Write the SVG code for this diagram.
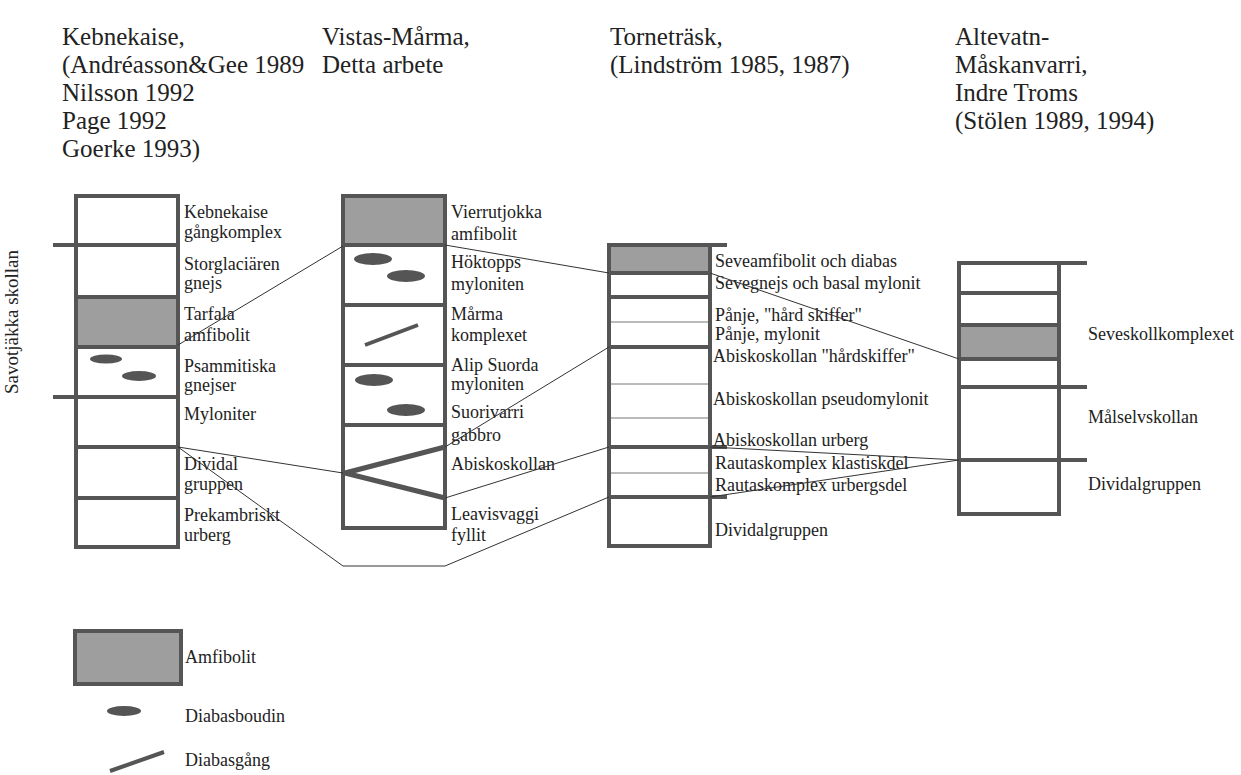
<svg xmlns="http://www.w3.org/2000/svg" width="1241" height="775" viewBox="0 0 1241 775">
<style>
text{font-family:"Liberation Serif","Times New Roman",serif;fill:#222}
.h{font-size:25px}
.l{font-size:18px}
.box{fill:#fff;stroke:#555;stroke-width:4}
.amf{fill:#9e9e9e}
.div{stroke:#555;stroke-width:4;fill:none}
.thin{stroke:#777;stroke-width:1;fill:none}
.bd{fill:#555}
.dyke{stroke:#555;stroke-width:4;stroke-linecap:butt}
.con{stroke:#333;stroke-width:1;fill:none}
</style>
<rect width="1241" height="775" fill="#fff"/>
<g id="headings">
<text class="h" x="62" y="45">Kebnekaise,</text>
<text class="h" x="62" y="73">(Andréasson&amp;Gee 1989</text>
<text class="h" x="62" y="101">Nilsson 1992</text>
<text class="h" x="62" y="129">Page 1992</text>
<text class="h" x="62" y="157">Goerke 1993)</text>
<text class="h" x="322" y="45">Vistas-Mårma,</text>
<text class="h" x="322" y="73">Detta arbete</text>
<text class="h" x="610" y="45">Torneträsk,</text>
<text class="h" x="610" y="73">(Lindström 1985, 1987)</text>
<text class="h" x="955" y="45">Altevatn-</text>
<text class="h" x="955" y="73">Måskanvarri,</text>
<text class="h" x="955" y="101">Indre Troms</text>
<text class="h" x="955" y="129">(Stölen 1989, 1994)</text>
</g>
<g id="savotjakka">
<text x="0" y="0" font-size="19" text-anchor="middle" transform="translate(18,322) rotate(-90)">Savotjäkka skollan</text>
</g>
<g id="column-kebnekaise">
<rect class="box" x="76" y="196" width="102" height="351"/>
<rect class="amf" x="78" y="297" width="98" height="50"/>
<line class="div" x1="53" y1="245" x2="178" y2="245"/>
<line class="div" x1="76" y1="297" x2="178" y2="297"/>
<line class="div" x1="76" y1="347" x2="178" y2="347"/>
<line class="div" x1="53" y1="397" x2="178" y2="397"/>
<line class="div" x1="76" y1="447" x2="178" y2="447"/>
<line class="div" x1="76" y1="498" x2="178" y2="498"/>
<ellipse class="bd" cx="106" cy="359" rx="16" ry="4.5"/>
<ellipse class="bd" cx="139" cy="376" rx="17" ry="5"/>
<text class="l" x="184" y="218">Kebnekaise</text>
<text class="l" x="184" y="238">gångkomplex</text>
<text class="l" x="184" y="270">Storglaciären</text>
<text class="l" x="184" y="289">gnejs</text>
<text class="l" x="184" y="320">Tarfala</text>
<text class="l" x="184" y="341">amfibolit</text>
<text class="l" x="184" y="372">Psammitiska</text>
<text class="l" x="184" y="391">gnejser</text>
<text class="l" x="184" y="420">Myloniter</text>
<text class="l" x="184" y="470">Dividal</text>
<text class="l" x="184" y="490">gruppen</text>
<text class="l" x="184" y="521">Prekambriskt</text>
<text class="l" x="184" y="541">urberg</text>
</g>
<g id="column-vistas">
<rect class="box" x="343" y="196" width="102" height="332"/>
<rect class="amf" x="345" y="198" width="98" height="47"/>
<line class="div" x1="343" y1="245" x2="445" y2="245"/>
<line class="div" x1="343" y1="305" x2="445" y2="305"/>
<line class="div" x1="343" y1="365" x2="445" y2="365"/>
<line class="div" x1="343" y1="425" x2="445" y2="425"/>
<ellipse class="bd" cx="373" cy="259" rx="19" ry="6"/>
<ellipse class="bd" cx="406" cy="276" rx="19" ry="6"/>
<line class="dyke" x1="365" y1="345" x2="418" y2="325"/>
<ellipse class="bd" cx="374" cy="380" rx="19" ry="6"/>
<ellipse class="bd" cx="406" cy="410" rx="19" ry="6"/>
<polyline points="445,447 345,473 445,498" fill="none" stroke="#555" stroke-width="5"/>
<text class="l" x="451" y="218">Vierrutjokka</text>
<text class="l" x="451" y="240">amfibolit</text>
<text class="l" x="451" y="268">Höktopps</text>
<text class="l" x="451" y="290">myloniten</text>
<text class="l" x="451" y="320">Mårma</text>
<text class="l" x="451" y="341">komplexet</text>
<text class="l" x="451" y="371">Alip Suorda</text>
<text class="l" x="451" y="390">myloniten</text>
<text class="l" x="451" y="418">Suorivarri</text>
<text class="l" x="451" y="441">gabbro</text>
<text class="l" x="451" y="470">Abiskoskollan</text>
<text class="l" x="451" y="520">Leavisvaggi</text>
<text class="l" x="451" y="541">fyllit</text>
</g>
<g id="column-tornetrask">
<rect class="box" x="609" y="245" width="101" height="301"/>
<rect class="amf" x="611" y="247" width="97" height="26"/>
<line class="div" x1="609" y1="245" x2="727" y2="245"/>
<line class="div" x1="609" y1="273" x2="710" y2="273"/>
<line class="div" x1="609" y1="297" x2="710" y2="297"/>
<line class="thin" x1="611" y1="322" x2="708" y2="322"/>
<line class="div" x1="609" y1="347" x2="710" y2="347"/>
<line class="thin" x1="611" y1="384" x2="708" y2="384"/>
<line class="thin" x1="611" y1="418" x2="708" y2="418"/>
<line class="div" x1="609" y1="447" x2="727" y2="447"/>
<line class="thin" x1="611" y1="473" x2="708" y2="473"/>
<line class="div" x1="609" y1="497" x2="727" y2="497"/>
<text class="l" x="715" y="267">Seveamfibolit och diabas</text>
<text class="l" x="715" y="289">Sevegnejs och basal mylonit</text>
<text class="l" x="715" y="321">Pånje, "hård skiffer"</text>
<text class="l" x="715" y="340">Pånje, mylonit</text>
<text class="l" x="713" y="362">Abiskoskollan "hårdskiffer"</text>
<text class="l" x="713" y="405">Abiskoskollan pseudomylonit</text>
<text class="l" x="713" y="446">Abiskoskollan urberg</text>
<text class="l" x="715" y="469">Rautaskomplex klastiskdel</text>
<text class="l" x="715" y="491">Rautaskomplex urbergsdel</text>
<text class="l" x="715" y="536">Dividalgruppen</text>
</g>
<g id="column-altevatn">
<rect class="box" x="959" y="263" width="100" height="251"/>
<rect class="amf" x="961" y="325" width="96" height="34"/>
<line class="div" x1="959" y1="263" x2="1087" y2="263"/>
<line class="div" x1="959" y1="293" x2="1059" y2="293"/>
<line class="div" x1="959" y1="325" x2="1059" y2="325"/>
<line class="div" x1="959" y1="359" x2="1059" y2="359"/>
<line class="div" x1="959" y1="387" x2="1087" y2="387"/>
<line class="div" x1="959" y1="460" x2="1087" y2="460"/>
<text class="l" x="1088" y="340">Seveskollkomplexet</text>
<text class="l" x="1088" y="423">Målselvskollan</text>
<text class="l" x="1088" y="490">Dividalgruppen</text>
</g>
<g id="connectors">
<line class="con" x1="178" y1="345" x2="343" y2="246"/>
<line class="con" x1="445" y1="245" x2="609" y2="273"/>
<line class="con" x1="710" y1="273" x2="959" y2="359"/>
<line class="con" x1="178" y1="447" x2="343" y2="473"/>
<polyline class="con" points="178,447 343,566 445,566 609,497"/>
<line class="con" x1="445" y1="447" x2="609" y2="347"/>
<line class="con" x1="445" y1="498" x2="609" y2="447"/>
<line class="con" x1="710" y1="447" x2="959" y2="460"/>
<line class="con" x1="710" y1="497" x2="959" y2="460"/>
</g>
<g id="legend">
<rect x="75" y="631" width="106" height="53" fill="#9e9e9e" stroke="#555" stroke-width="4"/>
<text class="l" x="185" y="663">Amfibolit</text>
<ellipse class="bd" cx="124" cy="711" rx="17" ry="5"/>
<text class="l" x="185" y="722">Diabasboudin</text>
<line class="dyke" x1="110" y1="771" x2="164" y2="752"/>
<text class="l" x="185" y="766">Diabasgång</text>
</g>
</svg>
